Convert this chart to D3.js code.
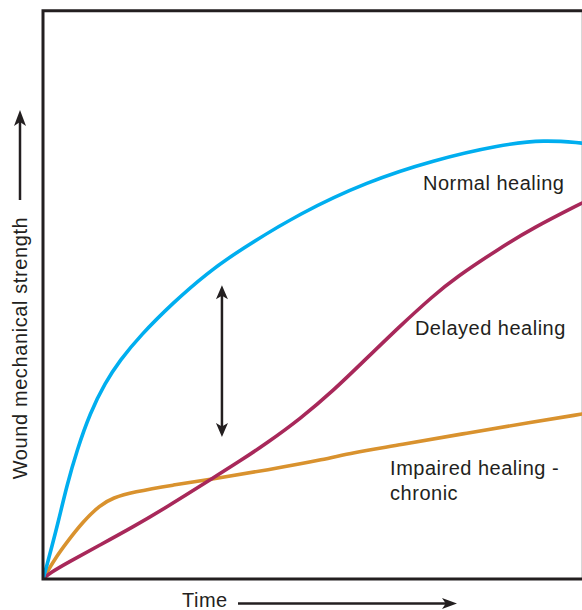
<!DOCTYPE html>
<html><head><meta charset="utf-8">
<script src="https://cdn.jsdelivr.net/npm/d3@7"></script>
<style>
html,body{margin:0;padding:0;background:#fff;}
svg{display:block;}
text{font-family:"Liberation Sans",Arial,Helvetica,sans-serif;fill:#231f20;}
</style></head>
<body><div id="chart"></div>
<script>
// Data (time 0-100, strength 0-100, arbitrary units)
const normalTime = [0,0.74,1.67,2.78,4.45,6.31,8.72,11.50,14.29,18.0,24.1,30.4,36.5,47.7,60.1,72.4,84.8,93.1,100];
const normalStrength = [0,2.46,5.81,9.85,16.54,22.7,29.2,34.5,38.5,42.8,48.6,53.8,57.9,64.4,69.9,73.7,76.4,77.3,76.7];
const delayedTime = [0,1.30,4.45,10.58,16.70,23.0,31.54,36.55,41.56,47.68,53.80,60.11,66.23,72.36,76.44,84.79,90.91,100];
const delayedStrength = [0,1.06,2.82,5.98,9.15,12.67,17.77,20.76,23.93,28.15,33.08,38.89,44.52,49.80,52.97,58.24,61.76,66.15];
const impairedTime = [0,2.23,4.45,7.42,10.58,12.99,16.70,24.12,31.54,41.56,52.69,56.96,66.23,78.66,90.91,100];
const impairedStrength = [0,3.6,6.5,10.1,13.0,14.3,15.31,16.54,17.60,19.18,21.12,22.17,23.58,25.69,27.63,29.03];
const seriesNames = ["Normal healing","Delayed healing","Impaired healing -|chronic"];
const seriesColors = ["#00aeef","#a8285a","#d9922e"];
const axisTitles = {y:"Wound mechanical strength", x:"Time"};
// gap marker (double arrow) between normal and delayed
const gapTime = 33.2, gapFrom = 25.0, gapTo = 51.7;

const W=582,H=610;
const svg=d3.select("#chart").append("svg").attr("width",W).attr("height",H);
const x=d3.scaleLinear().domain([0,100]).range([43,582]);
const y=d3.scaleLinear().domain([0,100]).range([579,10.7]);
const ink="#231f20";

// faint right border
svg.append("line").attr("x1",581.5).attr("x2",581.5).attr("y1",10).attr("y2",579)
  .attr("stroke","#d8d8d8").attr("stroke-width",1);

const series=[
  {name:seriesNames[0],t:normalTime,s:normalStrength,c:seriesColors[0]},
  {name:seriesNames[1],t:delayedTime,s:delayedStrength,c:seriesColors[1]},
  {name:seriesNames[2],t:impairedTime,s:impairedStrength,c:seriesColors[2]}
];
const line=d3.line().x(d=>x(d[0])).y(d=>y(d[1])).curve(d3.curveBasis);
svg.append("defs").append("clipPath").attr("id","clip").append("rect")
  .attr("x",43).attr("y",10).attr("width",539).attr("height",570);
const g=svg.append("g").attr("clip-path","url(#clip)");
series.slice().reverse().forEach(sr=>{
  g.append("path").datum(sr.t.map((t,i)=>[t,sr.s[i]]))
   .attr("d",line).attr("fill","none").attr("stroke",sr.c)
   .attr("stroke-width",3.6).attr("stroke-linecap","round").attr("stroke-linejoin","round");
});

// frame
svg.append("path").attr("d",`M${x(100)},${y(100)}H${x(0)}V${y(0)}H${x(100)}`)
  .attr("fill","none").attr("stroke",ink).attr("stroke-width",3);

// arrow helper
function head(tx,ty,dir,len,wid){
  const c=Math.cos(dir), s=Math.sin(dir);
  const bx=tx-c*len, by=ty-s*len;
  const nx=-s, ny=c;
  const notchX=tx-c*len*0.75, notchY=ty-s*len*0.75;
  return `M${tx},${ty}L${bx+nx*wid/2},${by+ny*wid/2}L${notchX},${notchY}L${bx-nx*wid/2},${by-ny*wid/2}Z`;
}
// double arrow
const ax=x(gapTime), ay1=y(gapTo), ay2=y(gapFrom);
svg.append("line").attr("x1",ax).attr("x2",ax).attr("y1",ay1+8).attr("y2",ay2-8)
  .attr("stroke",ink).attr("stroke-width",2.5);
svg.append("path").attr("d",head(ax,ay1,-Math.PI/2,14,12)).attr("fill",ink);
svg.append("path").attr("d",head(ax,ay2,Math.PI/2,14,12)).attr("fill",ink);

// y axis arrow
svg.append("line").attr("x1",20).attr("x2",20).attr("y1",120).attr("y2",200)
  .attr("stroke",ink).attr("stroke-width",2.5);
svg.append("path").attr("d",head(20,110,-Math.PI/2,16,12)).attr("fill",ink);
// x axis arrow
svg.append("line").attr("x1",238).attr("x2",447).attr("y1",603.5).attr("y2",603.5)
  .attr("stroke",ink).attr("stroke-width",2.5);
svg.append("path").attr("d",head(457,603.5,0,15,11)).attr("fill",ink);

// axis titles
svg.append("text").attr("transform","translate(27,348) rotate(-90)")
  .attr("text-anchor","middle").attr("font-size",20).attr("letter-spacing",0.6)
  .text(axisTitles.y);
svg.append("text").attr("x",182).attr("y",607).attr("font-size",20).attr("letter-spacing",0.5)
  .text(axisTitles.x);

// series labels
const labelPos=[[70.5,68.45],[69.0,42.9],[64.4,18.3]];
seriesNames.forEach((n,i)=>{
  const t=svg.append("text").attr("x",x(labelPos[i][0])).attr("y",y(labelPos[i][1]))
    .attr("font-size",20).attr("letter-spacing",0.5);
  n.split("|").forEach((p,j)=>{
    t.append("tspan").attr("x",x(labelPos[i][0])).attr("dy",j?25:0).text(p);
  });
});
</script></body></html>
